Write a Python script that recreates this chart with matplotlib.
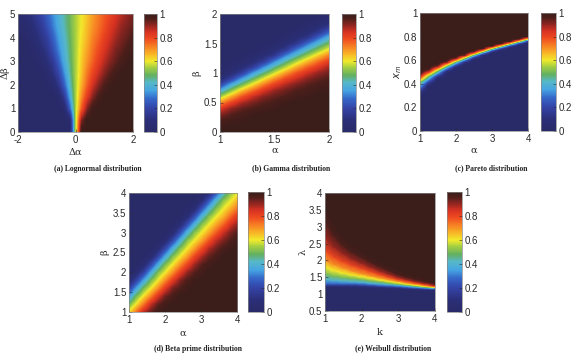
import numpy as np
import matplotlib
matplotlib.use("Agg")
import matplotlib.pyplot as plt
from matplotlib.colors import LinearSegmentedColormap
from matplotlib.ticker import FuncFormatter

# ---------------- data (values in percent) ----------------
# (a) Lognormal: rows = d_beta, columns = d_alpha
logn_dalpha = [-2.0, -1.8, -1.6, -1.4, -1.2, -1.0, -0.8, -0.6, -0.4, -0.2, 0.0,
               0.2, 0.4, 0.6, 0.8, 1.0, 1.2, 1.4, 1.6, 1.8, 2.0]
logn_dbeta = [0.0, 0.5, 1.0, 1.5, 2.0, 2.5, 3.0, 3.5, 4.0, 4.5, 5.0]
logn_vals = [
    [0, 0, 0, 0, 0, 0, 0, 0, 0, 0, 55, 100, 100, 100, 100, 100, 100, 100, 100, 100, 100],
    [0, 0, 0, 0, 0, 0, 0, 0, 0, 4, 55, 91, 100, 100, 100, 100, 100, 100, 100, 100, 100],
    [0, 0, 0, 0, 0, 0, 0, 0, 4, 26, 55, 76, 91, 99, 100, 100, 100, 100, 100, 100, 100],
    [0, 0, 0, 0, 0, 0, 0, 4, 16, 36, 55, 70, 82, 91, 97, 100, 100, 100, 100, 100, 100],
    [0, 0, 0, 0, 0, 1, 4, 13, 26, 41, 55, 66, 76, 85, 91, 96, 99, 100, 100, 100, 100],
    [0, 0, 0, 0, 1, 4, 11, 20, 32, 44, 55, 64, 73, 80, 86, 91, 95, 98, 100, 100, 100],
    [0, 0, 0, 2, 4, 10, 16, 26, 37, 46, 55, 63, 70, 76, 82, 87, 91, 94, 97, 99, 100],
    [0, 0, 2, 4, 9, 14, 22, 31, 39, 47, 55, 62, 68, 74, 79, 84, 88, 92, 94, 97, 98],
    [1, 2, 4, 8, 13, 18, 26, 34, 41, 48, 55, 61, 66, 72, 76, 81, 85, 89, 92, 94, 97],
    [2, 4, 7, 12, 16, 23, 30, 37, 43, 49, 55, 60, 65, 70, 74, 78, 83, 86, 90, 92, 94],
    [4, 7, 11, 15, 20, 26, 32, 38, 44, 49, 55, 60, 64, 69, 73, 77, 80, 84, 87, 90, 92],
]

# (b) Gamma: one list per alpha column, values along beta
gamma_alpha = [1.0, 1.1, 1.2, 1.3, 1.4, 1.5, 1.6, 1.7, 1.8, 1.9, 2.0]
gamma_beta = [0.0, 0.1, 0.2, 0.3, 0.4, 0.5, 0.6, 0.7, 0.8, 0.9, 1.0,
              1.1, 1.2, 1.3, 1.4, 1.5, 1.6, 1.7, 1.8, 1.9, 2.0]
gamma_cols = [
    [100, 99, 96, 91, 83, 70, 54, 38, 20, 8, 3, 1, 0, 0, 0, 0, 0, 0, 0, 0, 0],
    [100, 100, 98, 95, 90, 80, 67, 52, 37, 19, 8, 3, 1, 0, 0, 0, 0, 0, 0, 0, 0],
    [100, 100, 99, 97, 94, 88, 78, 65, 50, 35, 18, 8, 3, 1, 0, 0, 0, 0, 0, 0, 0],
    [100, 100, 100, 99, 96, 92, 86, 75, 62, 48, 34, 17, 8, 3, 1, 0, 0, 0, 0, 0, 0],
    [100, 100, 100, 100, 98, 95, 91, 84, 73, 60, 46, 32, 16, 8, 3, 1, 0, 0, 0, 0, 0],
    [100, 100, 100, 100, 99, 97, 94, 90, 82, 71, 58, 45, 31, 15, 8, 3, 1, 0, 0, 0, 0],
    [100, 100, 100, 100, 100, 99, 96, 93, 88, 80, 69, 56, 44, 30, 15, 8, 3, 1, 0, 0, 0],
    [100, 100, 100, 100, 100, 100, 98, 96, 92, 86, 78, 67, 55, 42, 29, 15, 8, 4, 1, 0, 0],
    [100, 100, 100, 100, 100, 100, 99, 97, 95, 91, 85, 76, 65, 53, 41, 28, 14, 7, 4, 1, 0],
    [100, 100, 100, 100, 100, 100, 100, 99, 97, 94, 90, 83, 74, 63, 51, 40, 27, 14, 7, 4, 1],
    [100, 100, 100, 100, 100, 100, 100, 99, 98, 96, 93, 89, 82, 72, 61, 50, 39, 26, 14, 7, 4],
]

# (c) Pareto: per alpha column, transition band values starting at x_m = start
pareto_alpha = [1.0, 1.25, 1.5, 1.75, 2.0, 2.25, 2.5, 2.75, 3.0, 3.25, 3.5, 3.75, 4.0]
pareto_xm = np.linspace(0.0, 1.0, 51)
pareto_band_start = [0.30, 0.38, 0.44, 0.48, 0.54, 0.58, 0.60, 0.64, 0.66, 0.70, 0.72, 0.74, 0.76]
pareto_band_vals = [
    [3, 8, 17, 27, 37, 46, 57, 72, 86, 96],
    [3, 11, 23, 36, 47, 64, 83, 96],
    [3, 13, 29, 43, 62, 84, 98],
    [1, 7, 24, 42, 64, 89],
    [7, 26, 45, 74, 97],
    [10, 34, 59, 92],
    [1, 17, 44, 81],
    [7, 36, 73],
    [1, 26, 63],
    [24, 64],
    [22, 65],
    [21, 65],
    [19, 66],
]

# (d) Beta prime: rows = beta, columns = alpha
bprime_alpha = [1.0, 1.2, 1.4, 1.6, 1.8, 2.0, 2.2, 2.4, 2.6, 2.8, 3.0, 3.2, 3.4, 3.6, 3.8, 4.0]
bprime_beta = [1.0, 1.2, 1.4, 1.6, 1.8, 2.0, 2.2, 2.4, 2.6, 2.8, 3.0, 3.2, 3.4, 3.6, 3.8, 4.0]
bprime_vals = [
    [61, 74, 87, 94, 99, 100, 100, 100, 100, 100, 100, 100, 100, 100, 100, 100],
    [49, 61, 73, 86, 94, 98, 100, 100, 100, 100, 100, 100, 100, 100, 100, 100],
    [34, 50, 61, 72, 84, 93, 97, 100, 100, 100, 100, 100, 100, 100, 100, 100],
    [18, 35, 50, 60, 71, 83, 92, 96, 99, 100, 100, 100, 100, 100, 100, 100],
    [5, 19, 35, 50, 60, 71, 82, 91, 96, 99, 100, 100, 100, 100, 100, 100],
    [0, 6, 19, 36, 51, 60, 70, 81, 90, 95, 98, 100, 100, 100, 100, 100],
    [0, 0, 6, 20, 37, 51, 60, 70, 80, 89, 95, 98, 100, 100, 100, 100],
    [0, 0, 1, 6, 20, 37, 51, 60, 69, 80, 88, 94, 97, 100, 100, 100],
    [0, 0, 0, 1, 7, 21, 38, 51, 60, 69, 79, 88, 93, 97, 99, 100],
    [0, 0, 0, 0, 1, 7, 21, 38, 52, 60, 68, 78, 87, 92, 96, 99],
    [0, 0, 0, 0, 0, 1, 7, 22, 39, 52, 60, 68, 77, 86, 92, 96],
    [0, 0, 0, 0, 0, 0, 1, 8, 23, 39, 52, 60, 68, 76, 85, 91],
    [0, 0, 0, 0, 0, 0, 0, 1, 8, 23, 40, 52, 60, 67, 76, 84],
    [0, 0, 0, 0, 0, 0, 0, 0, 1, 8, 24, 40, 52, 60, 67, 75],
    [0, 0, 0, 0, 0, 0, 0, 0, 0, 1, 9, 25, 41, 53, 60, 67],
    [0, 0, 0, 0, 0, 0, 0, 0, 0, 0, 1, 9, 25, 41, 53, 60],
]

# (e) Weibull: lambda where the value reaches each level, per k column
weibull_k = [1.0, 1.25, 1.5, 1.75, 2.0, 2.25, 2.5, 2.75, 3.0, 3.25, 3.5, 3.75, 4.0]
weibull_levels = [0.0, 0.05, 0.15, 0.30, 0.40, 0.50, 0.60, 0.70, 0.80, 0.90, 0.97, 1.0]
weibull_lambda = [
    [1.14, 1.14, 1.14, 1.135, 1.13, 1.12, 1.115, 1.105, 1.10, 1.09, 1.08, 1.07, 1.065],
    [1.22, 1.22, 1.22, 1.215, 1.21, 1.20, 1.19, 1.18, 1.17, 1.155, 1.14, 1.13, 1.12],
    [1.26, 1.26, 1.26, 1.26, 1.255, 1.24, 1.225, 1.21, 1.20, 1.18, 1.165, 1.15, 1.14],
    [1.33, 1.33, 1.32, 1.32, 1.31, 1.29, 1.27, 1.255, 1.24, 1.215, 1.195, 1.175, 1.16],
    [1.44, 1.41, 1.39, 1.37, 1.36, 1.33, 1.31, 1.29, 1.27, 1.24, 1.215, 1.195, 1.175],
    [1.60, 1.54, 1.50, 1.47, 1.44, 1.40, 1.37, 1.33, 1.30, 1.27, 1.24, 1.21, 1.19],
    [1.80, 1.70, 1.63, 1.57, 1.52, 1.47, 1.42, 1.38, 1.34, 1.30, 1.26, 1.23, 1.205],
    [2.00, 1.87, 1.77, 1.68, 1.61, 1.55, 1.49, 1.43, 1.38, 1.33, 1.29, 1.25, 1.22],
    [2.30, 2.10, 1.96, 1.85, 1.76, 1.67, 1.58, 1.50, 1.43, 1.38, 1.33, 1.28, 1.24],
    [2.70, 2.40, 2.20, 2.04, 1.92, 1.80, 1.69, 1.59, 1.50, 1.43, 1.37, 1.32, 1.27],
    [3.20, 2.75, 2.45, 2.25, 2.10, 1.95, 1.82, 1.70, 1.58, 1.50, 1.43, 1.37, 1.31],
    [3.60, 3.10, 2.75, 2.50, 2.30, 2.12, 1.98, 1.85, 1.72, 1.62, 1.54, 1.47, 1.40],
]

captions = ["(a) Lognormal distribution", "(b) Gamma distribution",
            "(c) Pareto distribution", "(d) Beta prime distribution",
            "(e) Weibull distribution"]
cbar_ticks = [0, 0.2, 0.4, 0.6, 0.8, 1]

# ---------------- style ----------------
cmap = LinearSegmentedColormap.from_list("jetdark", [
    (0.00, "#292a68"), (0.10, "#2b2f78"), (0.20, "#3443a6"), (0.28, "#3566c8"),
    (0.35, "#46a4e2"), (0.42, "#56b8c8"), (0.48, "#63b060"), (0.55, "#a8d040"),
    (0.60, "#f2ea2c"), (0.66, "#f8b626"), (0.72, "#f78424"), (0.79, "#ef4a20"),
    (0.85, "#d63222"), (0.91, "#8a2420"), (0.96, "#4e1f1b"), (1.00, "#3b1d1a")])

TXT = "#2a2a2a"
plt.rcParams["font.family"] = ["Liberation Sans", "DejaVu Sans"]
plt.rcParams["font.size"] = 7

W, H = 576, 359
fig = plt.figure(figsize=(W / 100, H / 100), dpi=100)
fig.patch.set_facecolor("white")


def rect(l, t, r, b):
    return [l / W, 1 - b / H, (r - l) / W, (b - t) / H]


def style_axes(ax, xt, yt):
    ax.set_xticks(xt)
    ax.set_yticks(yt)
    ax.xaxis.set_major_formatter(FuncFormatter(lambda v, p: f"{v:g}"))
    ax.yaxis.set_major_formatter(FuncFormatter(lambda v, p: f"{v:g}"))
    ax.tick_params(direction="in", length=2, width=0.4, labelsize=7,
                   colors=TXT, pad=2, top=False, right=False)
    for s in ax.spines.values():
        s.set_linewidth(0.5)
        s.set_color("#888888")


def add_cbar(mappable, pos):
    cax = fig.add_axes(rect(*pos))
    cb = fig.colorbar(mappable, cax=cax, ticks=cbar_ticks)
    cb.ax.yaxis.set_major_formatter(FuncFormatter(lambda v, p: f"{v:g}"))
    cb.ax.tick_params(direction="in", length=2, width=0.4, labelsize=7, colors=TXT, pad=2)
    cb.outline.set_linewidth(0.5)
    cb.outline.set_edgecolor("#888888")


def heat(ax, xs, ys, vals):
    xs = np.asarray(xs, float)
    ys = np.asarray(ys, float)
    dx = xs[1] - xs[0]
    dy = ys[1] - ys[0]
    im = ax.imshow(np.asarray(vals, float) / 100.0, origin="lower", aspect="auto",
                   cmap=cmap, vmin=0, vmax=1,
                   extent=[xs[0] - dx / 2, xs[-1] + dx / 2, ys[0] - dy / 2, ys[-1] + dy / 2],
                   interpolation="bilinear", interpolation_stage="data")
    ax.set_xlim(xs[0], xs[-1])
    ax.set_ylim(ys[0], ys[-1])
    return im


def labels(ax, xl, yl, xy, yx, ly=0.5):
    ax.set_xlabel(xl, fontsize=7, color=TXT, family=["DejaVu Serif"])
    ax.set_ylabel(yl, fontsize=7, color=TXT, family=["DejaVu Serif"])
    ax.xaxis.set_label_coords(0.5, xy)
    ax.yaxis.set_label_coords(yx, ly)
    ax.xaxis.label.set_va("center")
    ax.yaxis.label.set_va("center")


cap_kw = dict(ha="center", va="center", fontsize=5.5, fontweight="bold",
              color="#222222", family=["Liberation Serif", "DejaVu Serif"])

# (a)
axa = fig.add_axes(rect(18, 14, 133, 132))
im = heat(axa, logn_dalpha, logn_dbeta, logn_vals)
style_axes(axa, [-2, 0, 2], [0, 1, 2, 3, 4, 5])
labels(axa, "Δα", "Δβ", -0.17, -0.11)
add_cbar(im, (144, 14, 157, 132))
fig.text(98 / W, 1 - 169 / H, captions[0], **cap_kw)

# (b)
axb = fig.add_axes(rect(220, 14, 329, 132))
im = heat(axb, gamma_alpha, gamma_beta, np.asarray(gamma_cols).T)
style_axes(axb, [1, 1.5, 2], [0, 0.5, 1, 1.5, 2])
labels(axb, "α", "β", -0.155, -0.21)
add_cbar(im, (342, 14, 356, 132))
fig.text(291 / W, 1 - 168 / H, captions[1], **cap_kw)

# (c)
pareto_grid = np.zeros((len(pareto_xm), len(pareto_alpha)))
step = pareto_xm[1] - pareto_xm[0]
for j, (st, band) in enumerate(zip(pareto_band_start, pareto_band_vals)):
    i0 = int(round(st / step))
    pareto_grid[i0:i0 + len(band), j] = band
    pareto_grid[i0 + len(band):, j] = 100
axc = fig.add_axes(rect(420, 13, 528, 131))
im = heat(axc, pareto_alpha, pareto_xm, pareto_grid)
style_axes(axc, [1, 2, 3, 4], [0, 0.2, 0.4, 0.6, 0.8, 1])
labels(axc, "α", "$x_m$", -0.16, -0.2, 0.5)
add_cbar(im, (541, 13, 556, 131))
fig.text(491 / W, 1 - 168 / H, captions[2], **cap_kw)

# (d)
axd = fig.add_axes(rect(129, 193, 237, 312))
im = heat(axd, bprime_alpha, bprime_beta, bprime_vals)
style_axes(axd, [1, 2, 3, 4], [1, 1.5, 2, 2.5, 3, 3.5, 4])
labels(axd, "α", "β", -0.176, -0.22)
add_cbar(im, (248, 192, 264, 312))
fig.text(198 / W, 1 - 349 / H, captions[3], **cap_kw)

# (e)
axe = fig.add_axes(rect(325, 193, 435, 311))
ylo, yhi = 0.5, 4.0
K = np.asarray(weibull_k)
Lm = np.asarray(weibull_lambda)
Y = np.vstack([np.full(len(K), ylo), Lm, np.full(len(K), yhi)])
C = np.concatenate([[0.0], weibull_levels, [1.0]])[:, None] * np.ones(len(K))
X = np.tile(K, (Y.shape[0], 1))
im = axe.pcolormesh(X, Y, C, shading="gouraud", cmap=cmap, vmin=0, vmax=1)
axe.set_xlim(1, 4)
axe.set_ylim(ylo, yhi)
style_axes(axe, [1, 2, 3, 4], [0.5, 1, 1.5, 2, 2.5, 3, 3.5, 4])
labels(axe, "k", "λ", -0.178, -0.2)
add_cbar(im, (447, 192, 462, 312))
fig.text(393 / W, 1 - 348 / H, captions[4], **cap_kw)

fig.savefig("out.png", dpi=100, facecolor="white")
